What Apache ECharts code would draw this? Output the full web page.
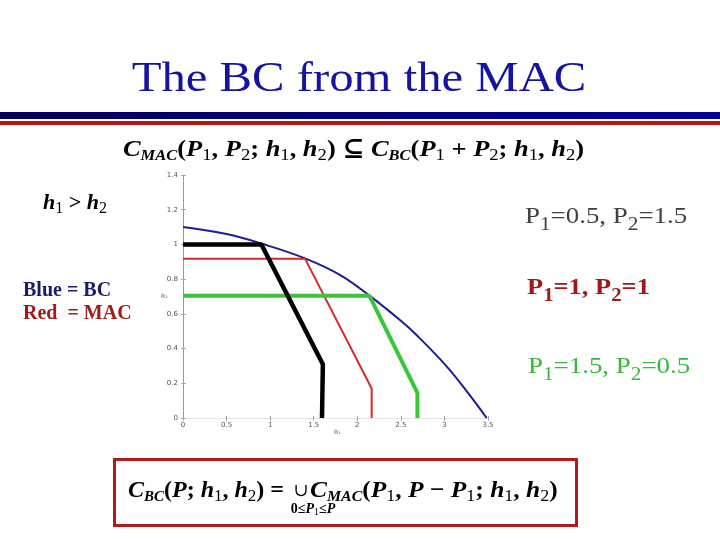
<!DOCTYPE html>
<html>
<head>
<meta charset="utf-8">
<script src="https://cdn.jsdelivr.net/npm/echarts@6/dist/echarts.min.js"></script>
<style>html,body{margin:0;padding:0;background:#fff;}#c{width:720px;height:540px;}</style>
</head>
<body>
<div id="c"></div>
<script>
// ---- data ----
const bcR1 = [0, 0.5, 0.9, 1.4, 1.8, 2.14, 2.5, 2.68, 3.03, 3.29, 3.485];
const bcR2 = [1.10, 1.06, 1.005, 0.92, 0.825, 0.705, 0.56, 0.478, 0.295, 0.132, 0];
const macAR1 = [0, 0.9, 1.605, 1.595];   // P1=0.5, P2=1.5 (black)
const macAR2 = [1.0, 1.0, 0.31, 0];
const macBR1 = [0, 1.40, 2.165, 2.165];  // P1=1, P2=1 (red)
const macBR2 = [0.918, 0.918, 0.17, 0];
const macCR1 = [0, 2.14, 2.69, 2.69];    // P1=1.5, P2=0.5 (green)
const macCR2 = [0.704, 0.704, 0.145, 0];
const xTickLabels = ['0', '0.5', '1', '1.5', '2', '2.5', '3', '3.5'];
const yTickLabels = ['0', '0.2', '0.4', '0.6', '0.8', '1', '1.2', '1.4'];

function pairs(xs, ys) { return xs.map((x, i) => [x, ys[i]]); }

const SERIF = '"Liberation Serif", "Times New Roman", "DejaVu Serif", serif';
function richSet(size, drop) {
  const LH = Math.round(size * 1.2);
  const si = Math.round(size * 0.62), sd = Math.round(size * 0.72);
  return {
    i: { fontFamily: SERIF, fontSize: size, fontWeight: 'bold', fontStyle: 'italic', lineHeight: LH, verticalAlign: 'middle', fill: '#000' },
    u: { fontFamily: SERIF, fontSize: size, fontWeight: 'bold', lineHeight: LH, verticalAlign: 'middle', fill: '#000' },
    si: { fontFamily: SERIF, fontSize: si, fontWeight: 'bold', fontStyle: 'italic', lineHeight: si, padding: [drop, 0, 0, 0], verticalAlign: 'middle', fill: '#000' },
    sd: { fontFamily: SERIF, fontSize: sd, lineHeight: sd, padding: [drop, 0, 0, 0], verticalAlign: 'middle', fill: '#000' }
  };
}
function labelRich(size, color, weight, drop) {
  const LH = Math.round(size * 1.2), s = Math.round(size * 0.8);
  return {
    m: { fontFamily: SERIF, fontSize: size, fontWeight: weight, lineHeight: LH, verticalAlign: 'middle', fill: color },
    s: { fontFamily: SERIF, fontSize: s, fontWeight: weight, lineHeight: s, padding: [drop, 0, 0, 0], verticalAlign: 'middle', fill: color }
  };
}

const chart = echarts.init(document.getElementById('c'), null, { renderer: 'canvas' });

const tickFont = { fontSize: 7, color: '#555', fontFamily: 'DejaVu Sans, sans-serif' };

const option = {
  backgroundColor: '#fff',
  animation: false,
  grid: { left: 183, top: 175, width: 305, height: 243 },
  xAxis: [
    { type: 'value', min: 0, max: 3.5, interval: 0.5, position: 'bottom',
      axisLine: { lineStyle: { color: '#999', width: 1 } },
      axisTick: { inside: true, length: 2, lineStyle: { color: '#999' } },
      splitLine: { show: false },
      axisLabel: Object.assign({ margin: 4, formatter: (v) => xTickLabels[Math.round(v / 0.5)] }, tickFont) },
    { type: 'value', min: 0, max: 3.5, interval: 0.5, position: 'top',
      axisLine: { show: true, lineStyle: { color: '#e4e4e4', width: 1 } },
      axisTick: { inside: true, length: 3, lineStyle: { color: '#aaa' } },
      splitLine: { show: false }, axisLabel: { show: false } }
  ],
  yAxis: [
    { type: 'value', min: 0, max: 1.4, interval: 0.2, position: 'left',
      axisLine: { show: true, lineStyle: { color: '#999', width: 1 } },
      axisTick: { show: true, inside: false, length: 2, lineStyle: { color: '#aaa' } },
      splitLine: { show: false },
      axisLabel: Object.assign({ margin: 5, formatter: (v) => yTickLabels[Math.round(v / 0.2)] }, tickFont) },
    { type: 'value', min: 0, max: 1.4, interval: 0.2, position: 'right',
      axisLine: { show: false },
      axisTick: { show: true, inside: false, length: 3, lineStyle: { color: '#aaa' } },
      splitLine: { show: false }, axisLabel: { show: false } }
  ],
  series: [
    { type: 'line', name: 'BC', data: pairs(bcR1, bcR2), smooth: 0.4, symbol: 'none',
      lineStyle: { color: '#1c1c96', width: 2 } },
    { type: 'line', name: 'MAC1', data: pairs(macBR1, macBR2), symbol: 'none',
      lineStyle: { color: '#d42a2a', width: 2 } },
    { type: 'line', name: 'MAC2', data: pairs(macCR1, macCR2), symbol: 'none',
      lineStyle: { color: '#3cc43c', width: 4 } },
    { type: 'line', name: 'MAC0', data: pairs(macAR1, macAR2), symbol: 'none',
      lineStyle: { color: '#000', width: 4.5 } }
  ],
  graphic: [
    // title
    { type: 'text', x: 359, y: 80, scaleX: 1.16, style: { text: 'The BC from the MAC', font: 'normal 42px ' + SERIF, fill: '#1414a0', align: 'center', verticalAlign: 'middle' } },
    // rule lines
    { type: 'rect', shape: { x: 0, y: 112, width: 720, height: 7 },
      style: { fill: new echarts.graphic.LinearGradient(0, 0, 1, 0, [{ offset: 0, color: '#00005c' }, { offset: 1, color: '#00009c' }]) } },
    { type: 'rect', shape: { x: 0, y: 121, width: 720, height: 4 }, style: { fill: '#b01818' } },
    // top formula
    { type: 'text', x: 123, y: 150, scaleX: 1.1, style: {
        text: '{i|C}{si|MAC}{u|(}{i|P}{sd|1}{u|, }{i|P}{sd|2}{u|; }{i|h}{sd|1}{u|, }{i|h}{sd|2}{u|) ⊆ }{i|C}{si|BC}{u|(}{i|P}{sd|1}{u| + }{i|P}{sd|2}{u|; }{i|h}{sd|1}{u|, }{i|h}{sd|2}{u|)}',
        rich: richSet(24, 12), verticalAlign: 'middle', align: 'left' } },
    // h1 > h2
    { type: 'text', x: 43, y: 203, style: {
        text: '{i|h}{sd|1}{u| > }{i|h}{sd|2}', rich: richSet(22, 11), verticalAlign: 'middle', align: 'left' } },
    // colour key
    { type: 'text', x: 23, y: 291, style: { text: 'Blue = BC', font: 'bold 20px ' + SERIF, fill: '#1c1c6e', verticalAlign: 'middle' } },
    { type: 'text', x: 23, y: 314, style: { text: 'Red  = MAC', font: 'bold 20px ' + SERIF, fill: '#a01c1c', verticalAlign: 'middle' } },
    // right labels
    { type: 'text', x: 525, y: 217, scaleX: 1.12, style: { text: '{m|P}{s|1}{m|=0.5, P}{s|2}{m|=1.5}', rich: labelRich(24, '#404040', 'normal', 17), verticalAlign: 'middle' } },
    { type: 'text', x: 527, y: 288, scaleX: 1.1, style: { text: '{m|P}{s|1}{m|=1, P}{s|2}{m|=1}', rich: labelRich(24, '#a01818', 'bold', 17), verticalAlign: 'middle' } },
    { type: 'text', x: 528, y: 367, scaleX: 1.12, style: { text: '{m|P}{s|1}{m|=1.5, P}{s|2}{m|=0.5}', rich: labelRich(24, '#38b838', 'normal', 17), verticalAlign: 'middle' } },
    // axis names
    { type: 'text', x: 161, y: 296, style: { text: 'R₂', font: '6px DejaVu Sans, sans-serif', fill: '#555', verticalAlign: 'middle' } },
    { type: 'text', x: 334, y: 432, style: { text: 'R₁', font: '6px DejaVu Sans, sans-serif', fill: '#555', verticalAlign: 'middle' } },
    // bottom boxed formula
    { type: 'rect', shape: { x: 114.5, y: 459.5, width: 462, height: 66 }, style: { fill: 'none', stroke: '#b01c1c', lineWidth: 3 } },
    { type: 'text', x: 128, y: 491, style: {
        text: '{i|C}{si|BC}{u|(}{i|P}{u|; }{i|h}{sd|1}{u|, }{i|h}{sd|2}{u|) =}', rich: richSet(24, 12), verticalAlign: 'middle', align: 'left' } },
    { type: 'text', x: 301, y: 491, style: { text: '∪', font: 'normal 18px "DejaVu Serif", serif', fill: '#000', align: 'center', verticalAlign: 'middle' } },
    { type: 'text', x: 313, y: 509, style: {
        text: '{u|0≤}{i|P}{sd|1}{u|≤}{i|P}', rich: {
          u: { fontFamily: SERIF, fontSize: 14, fontWeight: 'bold', lineHeight: 16, verticalAlign: 'middle', fill: '#000' },
          i: { fontFamily: SERIF, fontSize: 14, fontWeight: 'bold', fontStyle: 'italic', lineHeight: 16, verticalAlign: 'middle', fill: '#000' },
          sd: { fontFamily: SERIF, fontSize: 10, lineHeight: 10, padding: [6, 0, 0, 0], verticalAlign: 'middle', fill: '#000' } },
        align: 'center', verticalAlign: 'middle' } },
    { type: 'text', x: 310, y: 491, scaleX: 1.06, style: {
        text: '{i|C}{si|MAC}{u|(}{i|P}{sd|1}{u|, }{i|P}{u| − }{i|P}{sd|1}{u|; }{i|h}{sd|1}{u|, }{i|h}{sd|2}{u|)}', rich: richSet(24, 12), verticalAlign: 'middle', align: 'left' } }
  ]
};
chart.setOption(option);
</script>
</body>
</html>
